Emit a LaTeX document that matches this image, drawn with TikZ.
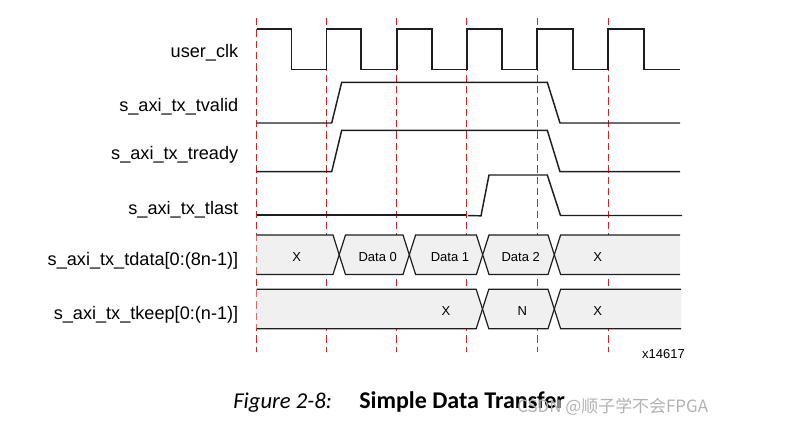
\documentclass[tikz,border=0pt]{standalone}
\usepackage{fontspec}
\setmainfont{Liberation Sans}
\newfontfamily\capfont{Carlito}
\newfontfamily\cjk{Noto Sans CJK SC}
\definecolor{gridred}{RGB}{220,30,30}
\definecolor{busfill}{RGB}{240,240,240}
\definecolor{wavecol}{RGB}{30,30,30}
\begin{document}
\begin{tikzpicture}[x=0.75pt,y=-0.75pt,
  gridline/.style={draw=gridred, line width=0.75pt, dash pattern=on 5.5pt off 3pt},
  wave/.style={draw=wavecol, line width=1.1pt, line join=miter},
  busseg/.style={fill=busfill, draw=none},
  busedge/.style={draw=wavecol, line width=0.9pt, line join=miter},
  siglabel/.style={anchor=base east, inner sep=0pt, font=\fontsize{13.6}{16}\selectfont},
  busval/.style={anchor=base, inner sep=0pt, font=\fontsize{9.75}{12}\selectfont}]
\useasboundingbox (0,0) rectangle (793,425);

% dashed clock-edge guides
\foreach \gx in {256.5,326.5,396.5,466.5,537.5,608.5}
  \draw[gridline] (\gx,18) -- (\gx,352);

% signal labels
\node[siglabel] (lclk)   at (238.5,57.3)  {user\_clk};
\node[siglabel] (lvalid) at (238.5,111)   {s\_axi\_tx\_tvalid};
\node[siglabel] (lready) at (238.5,159.3) {s\_axi\_tx\_tready};
\node[siglabel] (llast)  at (238.5,214)   {s\_axi\_tx\_tlast};
\node[siglabel] (ldata)  at (238.5,265)   {s\_axi\_tx\_tdata[0:(8n-1)]};
\node[siglabel] (lkeep)  at (238.5,319.3) {s\_axi\_tx\_tkeep[0:(n-1)]};

% clock
\draw[wave] (256.5,29) -- (291.5,29) -- (291.5,69.5) -- (326.5,69.5) -- (326.5,29)
  -- (361,29) -- (361,69.5) -- (397,69.5) -- (397,29)
  -- (432,29) -- (432,69.5) -- (467,69.5) -- (467,29)
  -- (502,29) -- (502,69.5) -- (537,69.5) -- (537,29)
  -- (573,29) -- (573,69.5) -- (608,69.5) -- (608,29)
  -- (644,29) -- (644,69.5) -- (680,69.5);

% tvalid
\draw[wave] (256.5,123) -- (331.7,123) -- (341.7,82.3) -- (547.3,82.3) -- (560,123) -- (680,123);
% tready
\draw[wave] (256.5,171.7) -- (331.7,171.7) -- (341.7,130.3) -- (547.3,130.3) -- (560,171.7) -- (680,171.7);
% tlast
\draw[wave, line width=1.6pt] (256.5,214.6) -- (466,214.6);
\draw[wave] (468,215.6) -- (481,215.8) -- (489,175) -- (547.3,175) -- (560.5,215.5) -- (682,215.5);

% tdata bus
\def\ht{235}\def\hb{274.5}\def\hm{254.75}\def\hh{6.3}
\fill[busseg] (256.5,\ht) -- (333,\ht) -- (339.2,\hm) -- (333,\hb) -- (256.5,\hb) -- cycle;
\draw[busedge] (256.5,\ht) -- (333,\ht) -- (339.2,\hm) -- (333,\hb) -- (256.5,\hb);
\foreach \a/\b in {339.2/409.3, 409.3/482.7, 482.7/554.3}{
  \fill[busseg] (\a,\hm) -- ({\a+\hh},\ht) -- ({\b-\hh},\ht) -- (\b,\hm) -- ({\b-\hh},\hb) -- ({\a+\hh},\hb) -- cycle;
  \draw[busedge] (\a,\hm) -- ({\a+\hh},\ht) -- ({\b-\hh},\ht) -- (\b,\hm) -- ({\b-\hh},\hb) -- ({\a+\hh},\hb) -- cycle;
}
\fill[busseg] (680,\ht) -- (560.6,\ht) -- (554.3,\hm) -- (560.6,\hb) -- (680,\hb) -- cycle;
\draw[busedge] (680,\ht) -- (560.6,\ht) -- (554.3,\hm) -- (560.6,\hb) -- (680,\hb);
\node[busval] (d0) at (296.7,261.4) {X};
\node[busval] (d1) at (377.7,261.4) {Data 0};
\node[busval] (d2) at (450,261.4)   {Data 1};
\node[busval] (d3) at (520.7,261.4) {Data 2};
\node[busval] (d4) at (597.7,261.4) {X};

% tkeep bus
\def\kt{289.3}\def\kb{328.7}\def\km{309}
\fill[busseg] (256.5,\kt) -- (476.2,\kt) -- (482.5,\km) -- (476.2,\kb) -- (256.5,\kb) -- cycle;
\draw[busedge] (256.5,\kt) -- (476.2,\kt) -- (482.5,\km) -- (476.2,\kb) -- (256.5,\kb);
\fill[busseg] (482.5,\km) -- (488.8,\kt) -- (548,\kt) -- (554.3,\km) -- (548,\kb) -- (488.8,\kb) -- cycle;
\draw[busedge] (482.5,\km) -- (488.8,\kt) -- (548,\kt) -- (554.3,\km) -- (548,\kb) -- (488.8,\kb) -- cycle;
\fill[busseg] (681,\kt) -- (560.6,\kt) -- (554.3,\km) -- (560.6,\kb) -- (681,\kb) -- cycle;
\draw[busedge] (681,\kt) -- (560.6,\kt) -- (554.3,\km) -- (560.6,\kb) -- (681,\kb);
\node[busval] (k0) at (446,315.3)   {X};
\node[busval] (k1) at (522.3,315.3) {N};
\node[busval] (k2) at (597.7,315.3) {X};

% figure id
\node[anchor=base east, inner sep=0pt, font=\fontsize{9.75}{12}\selectfont] (fid) at (685,358) {x14617};

% caption
\node[anchor=base west, inner sep=0pt, font=\capfont\itshape\fontsize{17}{20}\selectfont] (capnum) at (233,408.3) {Figure 2-8:};
\node[anchor=base west, inner sep=0pt, font=\capfont\bfseries\fontsize{18}{21}\selectfont] (captxt) at (359,408.3) {Simple Data Transfer};

% watermark
\node[anchor=base west, inner sep=0pt, text=gray!60, font=\cjk\fontsize{12.7}{16}\selectfont] (wm) at (517,412.5) {CSDN @顺子学不会FPGA};
\end{tikzpicture}
\end{document}
